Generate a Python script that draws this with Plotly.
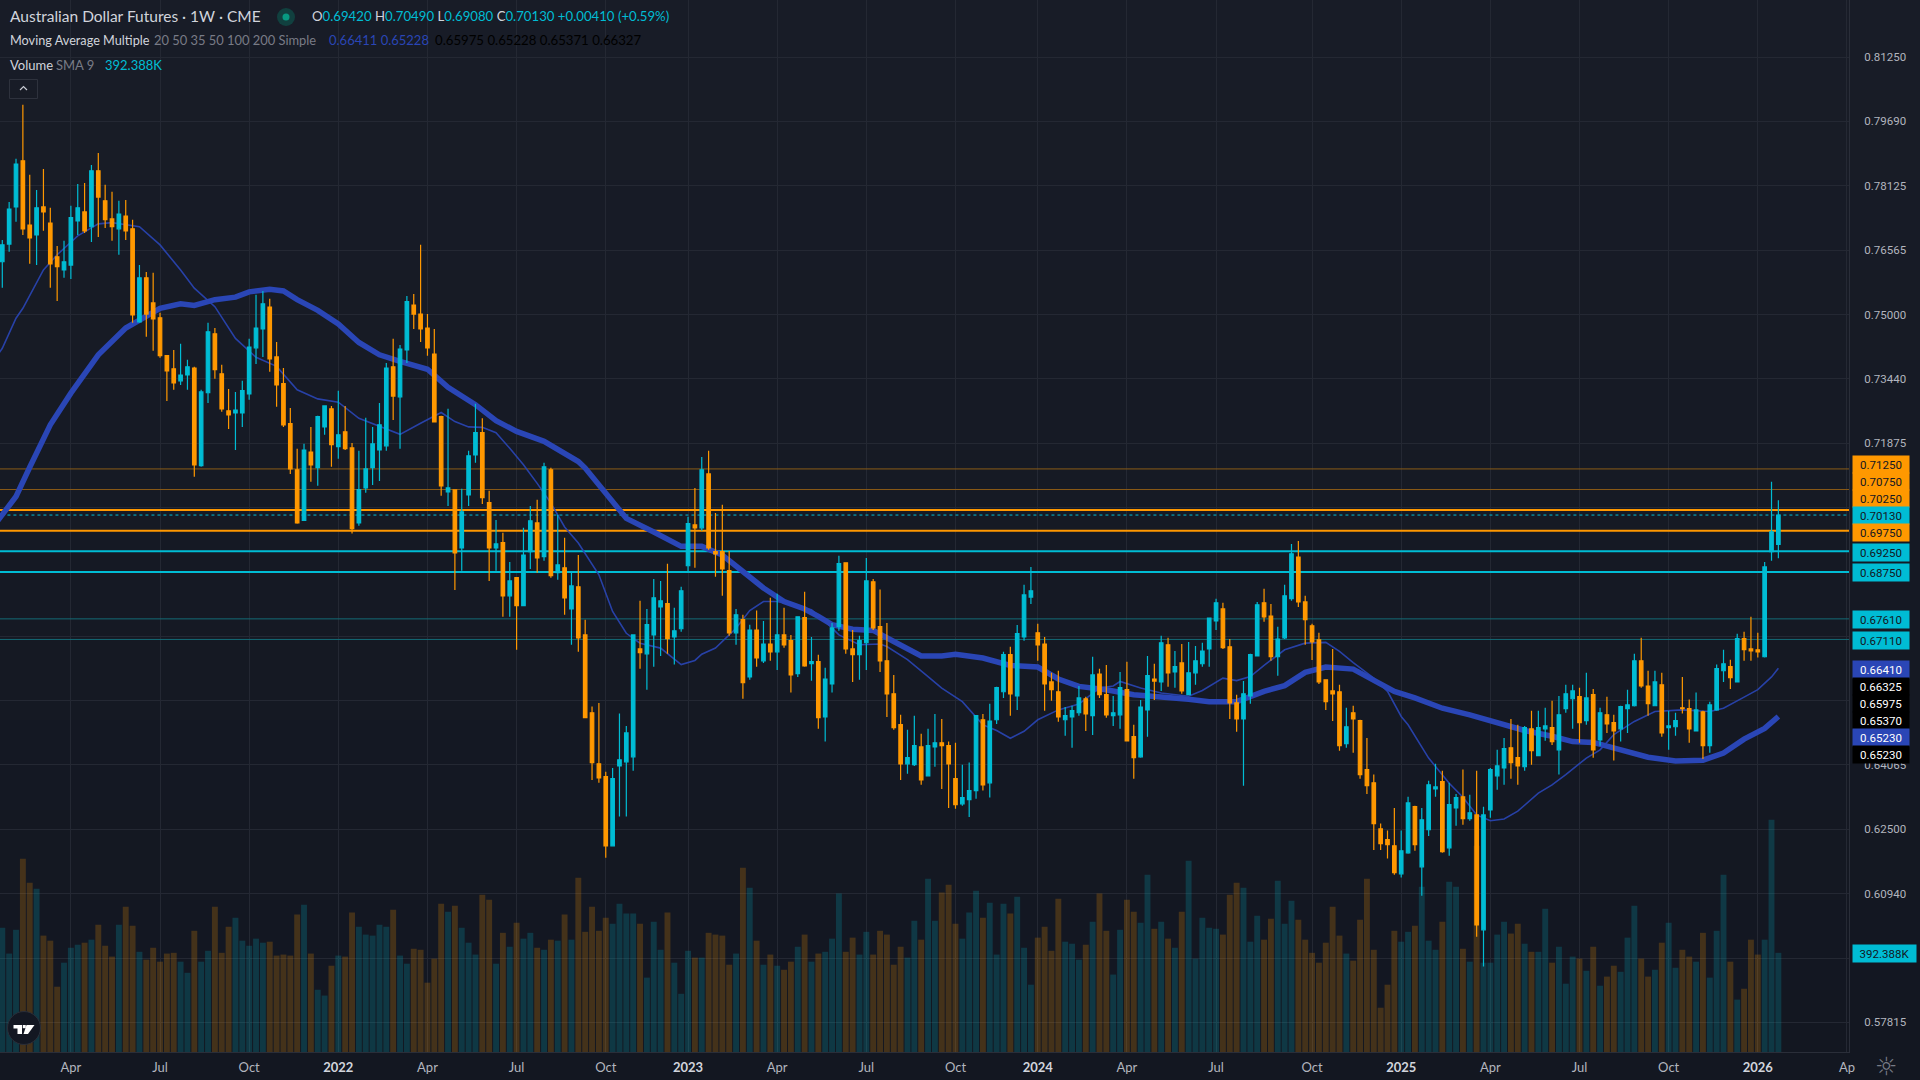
import plotly.graph_objects as go

# Weekly AUD futures, oldest bar first
opens = [
 .7628,.7671,.7761,.7873,.7717,.7693,.7761,.7722,.7640,.7608,
 .7620,.7727,.7749,.7713,.7849,.7776,.7732,.7708,.7739,.7708,
 .7482,.7589,.7528,.7492,.7400,.7368,.7339,.7353,.7370,.7133,
 .7310,.7453,.7356,.7266,.7261,.7261,.7307,.7419,.7465,.7518,
 .7397,.7332,.7235,.7123,.7000,.7166,.7128,.7227,.7271,.7179,
 .7215,.7176,.6994,.7079,.7128,.7171,.7181,.7373,.7300,.7414,
 .7523,.7501,.7467,.7404,.7252,.7069,.7074,.6933,.7062,.7159,
 .7213,.7043,.6933,.6946,.6817,.6861,.6793,.6924,.6994,.6912,
 .7123,.6873,.6885,.6785,.6839,.6722,.6533,.6409,.6378,.6210,
 .6404,.6414,.6426,.6688,.6676,.6722,.6790,.6798,.6717,.6737,
 .6890,.6989,.6982,.7113,.6924,.6924,.6878,.6727,.6759,.6620,
 .6734,.6659,.6700,.6681,.6722,.6708,.6628,.6764,.6652,.6657,
 .6523,.6603,.6742,.6897,.6688,.6674,.6703,.6851,.6742,.6659,
 .6579,.6504,.6409,.6407,.6450,.6380,.6450,.6460,.6453,.6373,
 .6312,.6322,.6344,.6516,.6363,.6516,.6584,.6674,.6574,.6717,
 .6814,.6727,.6700,.6608,.6584,.6516,.6523,.6533,.6567,.6526,
 .6627,.6577,.6526,.6528,.6589,.6475,.6426,.6540,.6615,.6608,
 .6698,.6632,.6654,.6577,.6630,.6652,.6688,.6756,.6785,.6693,
 .6557,.6518,.6574,.6671,.6800,.6768,.6669,.6715,.6810,.6911,
 .6802,.6744,.6710,.6613,.6586,.6584,.6458,.6533,.6514,.6395,
 .6363,.6251,.6225,.6210,.6142,.6193,.6305,.6159,.6249,.6348,
 .6366,.6205,.6302,.6329,.6276,.6285,.6006,.6297,.6380,.6399,
 .6448,.6424,.6402,.6494,.6429,.6494,.6497,.6443,.6543,.6567,
 .6572,.6514,.6577,.6467,.6528,.6509,.6494,.6543,.6550,.6659,
 .6598,.6550,.6601,.6497,.6499,.6545,.6543,.6489,.6535,.6453,
 .6540,.6635,.6645,.6608,.6713,.6688,.6686,.6669,.6924,.6942,
]
highs = [
 .7681,.7773,.7878,.8009,.7839,.7802,.7853,.7759,.7666,.7679,
 .7764,.7817,.7819,.7863,.7892,.7815,.7798,.7776,.7778,.7730,
 .7620,.7603,.7601,.7504,.7400,.7414,.7429,.7390,.7373,.7317,
 .7480,.7467,.7378,.7319,.7312,.7339,.7441,.7548,.7557,.7538,
 .7433,.7370,.7273,.7174,.7186,.7227,.7254,.7278,.7278,.7315,
 .7278,.7188,.7169,.7249,.7227,.7285,.7382,.7441,.7426,.7545,
 .7550,.7669,.7501,.7465,.7254,.7271,.7075,.7077,.7169,.7283,
 .7248,.7072,.7001,.6970,.6899,.6861,.6982,.7035,.7050,.7140,
 .7128,.7014,.6958,.6873,.6916,.6759,.6548,.6557,.6390,.6399,
 .6531,.6501,.6722,.6805,.6785,.6858,.6853,.6895,.6788,.6839,
 .7009,.7079,.7154,.7169,.7018,.7038,.6926,.6785,.6771,.6747,
 .6781,.6756,.6812,.6822,.6788,.6722,.6766,.6827,.6717,.6674,
 .6642,.6751,.6914,.6897,.6734,.6720,.6909,.6858,.6832,.6751,
 .6625,.6528,.6492,.6526,.6482,.6494,.6530,.6518,.6463,.6460,
 .6407,.6412,.6526,.6530,.6555,.6596,.6681,.6693,.6746,.6844,
 .6887,.6749,.6717,.6630,.6635,.6547,.6550,.6598,.6572,.6669,
 .6640,.6649,.6574,.6632,.6657,.6504,.6564,.6671,.6652,.6720,
 .6715,.6683,.6700,.6705,.6695,.6703,.6763,.6810,.6800,.6712,
 .6577,.6610,.6676,.6802,.6834,.6797,.6742,.6844,.6943,.6950,
 .6817,.6749,.6727,.6613,.6688,.6601,.6545,.6550,.6516,.6472,
 .6383,.6264,.6247,.6302,.6247,.6329,.6307,.6302,.6368,.6409,
 .6392,.6363,.6336,.6395,.6334,.6392,.6305,.6399,.6443,.6472,
 .6518,.6504,.6501,.6538,.6538,.6545,.6562,.6574,.6601,.6601,
 .6594,.6630,.6591,.6545,.6572,.6528,.6550,.6589,.6676,.6715,
 .6635,.6635,.6630,.6538,.6533,.6620,.6565,.6582,.6538,.6560,
 .6650,.6686,.6662,.6725,.6730,.6766,.6727,.6899,.7094,.7049,
]
lows = [
 .7565,.7652,.7725,.7693,.7623,.7620,.7703,.7565,.7533,.7589,
 .7586,.7693,.7698,.7676,.7688,.7710,.7679,.7645,.7681,.7480,
 .7480,.7446,.7412,.7395,.7290,.7317,.7329,.7317,.7106,.7130,
 .7285,.7344,.7264,.7222,.7171,.7227,.7293,.7380,.7397,.7361,
 .7276,.7227,.7113,.6992,.7000,.7094,.7084,.7208,.7130,.7150,
 .7171,.6968,.6987,.7067,.7086,.7096,.7169,.7244,.7174,.7382,
 .7465,.7433,.7400,.7239,.7060,.7035,.6831,.6878,.7035,.7140,
 .7040,.6853,.6878,.6766,.6766,.6686,.6793,.6882,.6873,.6902,
 .6861,.6856,.6771,.6698,.6681,.6521,.6370,.6363,.6181,.6210,
 .6281,.6281,.6392,.6640,.6589,.6645,.6671,.6676,.6650,.6730,
 .6875,.6885,.6975,.6929,.6863,.6817,.6720,.6698,.6567,.6613,
 .6645,.6654,.6659,.6637,.6691,.6582,.6620,.6645,.6611,.6494,
 .6463,.6582,.6732,.6676,.6608,.6613,.6637,.6734,.6632,.6523,
 .6492,.6370,.6385,.6404,.6358,.6380,.6402,.6348,.6302,.6300,
 .6307,.6280,.6324,.6344,.6327,.6506,.6569,.6526,.6540,.6708,
 .6797,.6659,.6538,.6562,.6511,.6477,.6448,.6526,.6489,.6479,
 .6569,.6521,.6501,.6494,.6465,.6373,.6424,.6475,.6564,.6586,
 .6596,.6594,.6579,.6577,.6601,.6645,.6645,.6734,.6688,.6518,
 .6487,.6356,.6555,.6671,.6754,.6659,.6623,.6712,.6805,.6790,
 .6698,.6661,.6603,.6540,.6513,.6441,.6448,.6436,.6373,.6336,
 .6200,.6200,.6179,.6140,.6133,.6191,.6198,.6089,.6234,.6329,
 .6193,.6186,.6259,.6261,.6271,.5989,.5917,.6278,.6346,.6358,
 .6373,.6358,.6392,.6407,.6429,.6465,.6455,.6383,.6533,.6494,
 .6460,.6504,.6424,.6453,.6484,.6417,.6463,.6484,.6548,.6594,
 .6526,.6550,.6475,.6443,.6477,.6531,.6460,.6489,.6421,.6436,
 .6538,.6608,.6591,.6608,.6659,.6659,.6667,.6667,.6902,.6908,
]
closes = [
 .7669,.7756,.7865,.7708,.7686,.7759,.7749,.7623,.7616,.7628,
 .7735,.7759,.7703,.7849,.7785,.7730,.7713,.7744,.7703,.7499,
 .7589,.7501,.7489,.7400,.7363,.7334,.7353,.7373,.7135,.7312,
 .7458,.7366,.7271,.7256,.7268,.7315,.7421,.7467,.7526,.7392,
 .7329,.7232,.7125,.6994,.7171,.7135,.7252,.7278,.7184,.7208,
 .7174,.6980,.7075,.7125,.7186,.7232,.7370,.7302,.7416,.7531,
 .7501,.7465,.7419,.7239,.7084,.7079,.6921,.7021,.7157,.7213,
 .7055,.6933,.6943,.6817,.6853,.6793,.6916,.6999,.6909,.7130,
 .6866,.6892,.6812,.6841,.6715,.6521,.6412,.6375,.6210,.6373,
 .6419,.6484,.6722,.6679,.6747,.6812,.6805,.6713,.6732,.6829,
 .6992,.6982,.7123,.6933,.6919,.6882,.6727,.6771,.6606,.6734,
 .6666,.6700,.6681,.6722,.6698,.6625,.6766,.6647,.6657,.6521,
 .6615,.6739,.6895,.6688,.6674,.6708,.6853,.6739,.6659,.6579,
 .6497,.6409,.6424,.6453,.6370,.6453,.6460,.6453,.6409,.6310,
 .6327,.6344,.6526,.6358,.6513,.6594,.6674,.6579,.6725,.6819,
 .6829,.6698,.6603,.6589,.6523,.6526,.6538,.6569,.6530,.6625,
 .6577,.6528,.6533,.6594,.6465,.6424,.6547,.6623,.6610,.6703,
 .6630,.6645,.6586,.6630,.6659,.6683,.6763,.6800,.6691,.6557,
 .6518,.6579,.6674,.6795,.6766,.6669,.6712,.6817,.6919,.6802,
 .6759,.6705,.6608,.6560,.6579,.6453,.6499,.6518,.6383,.6356,
 .6264,.6215,.6213,.6145,.6198,.6314,.6213,.6273,.6358,.6353,
 .6196,.6310,.6327,.6276,.6290,.6018,.6285,.6395,.6404,.6446,
 .6412,.6404,.6497,.6441,.6497,.6501,.6463,.6528,.6579,.6586,
 .6509,.6569,.6443,.6533,.6506,.6489,.6548,.6552,.6659,.6598,
 .6555,.6608,.6484,.6501,.6514,.6543,.6494,.6540,.6453,.6552,
 .6640,.6652,.6618,.6713,.6686,.6683,.6681,.6887,.6972,.7013,
]
# Contracts per week, thousands
volumes_k = [
 491,389,483,764,669,645,460,440,258,353,
 412,424,432,444,503,420,377,503,574,499,
 396,365,412,357,389,392,357,313,479,357,
 400,574,392,495,531,440,420,448,432,436,
 381,385,381,543,582,389,246,223,341,381,
 377,551,495,464,460,503,495,562,381,349,
 408,404,274,369,586,554,578,491,432,385,
 622,602,349,471,416,511,448,471,412,404,
 444,440,543,444,689,475,574,479,531,507,
 586,547,547,507,294,515,404,551,353,230,
 400,373,373,471,464,460,345,389,728,649,
 440,345,385,341,325,357,416,464,357,389,
 396,448,626,396,452,385,475,385,479,464,
 345,416,373,519,444,685,519,630,661,507,
 448,551,637,531,590,385,586,547,614,412,
 266,452,495,400,606,436,428,365,424,515,
 626,479,306,483,602,554,511,701,487,515,
 448,412,554,756,369,531,491,487,464,622,
 669,649,436,539,444,527,677,507,598,523,
 444,392,353,432,574,460,389,361,523,685,
 404,175,266,479,436,475,499,653,440,404,
 515,673,653,408,357,815,353,353,464,515,
 468,507,428,396,396,566,353,416,270,377,
 369,321,416,262,298,341,317,452,578,369,
 298,325,432,511,333,404,377,357,471,294,
 479,701,357,207,250,444,385,444,918,392,
]

# Simple moving averages, sampled along the curve by bar number
sma_fast_bar = [-1,0,2,3,6,8,11,14,16,20,23,26,28,31,34,37,40,43,46,49,52,55,58,61,64,66,68,70,72,74,76,78,80,82,84,87,89,91,93,96,99,101,102,104,107,109,111,113,118,120,122,125,128,129,132,135,137,140,143,145,147,149,151,154,157,160,162,163,166,169,173,175,178,180,182,184,187,190,193,195,197,200,202,204,205,208,211,213,215,217,219,221,224,226,228,231,233,235,238,241,245,249,251,254,256,258,259]
sma_fast = [.7394,.7418,.7491,.7515,.7608,.7645,.7691,.7720,.7723,.7713,.7669,.7608,.7564,.7519,.7442,.7396,.7374,.7317,.7295,.7287,.7248,.7228,.7209,.7236,.7262,.7240,.7227,.7226,.7213,.7175,.7135,.7090,.7042,.6984,.6945,.6868,.6779,.6726,.6702,.6690,.6650,.6660,.6675,.6690,.6738,.6781,.6803,.6803,.6783,.6755,.6722,.6698,.6700,.6694,.6662,.6621,.6593,.6560,.6504,.6490,.6471,.6488,.6516,.6540,.6554,.6593,.6598,.6609,.6593,.6581,.6573,.6587,.6617,.6611,.6621,.6648,.6686,.6702,.6704,.6682,.6655,.6617,.6585,.6524,.6504,.6423,.6362,.6328,.6285,.6271,.6275,.6294,.6338,.6358,.6383,.6423,.6443,.6480,.6512,.6536,.6540,.6536,.6544,.6571,.6589,.6620,.6641]
sma_slow_bar = [-1,2,4,7,10,14,18,21,23,26,28,31,34,36,39,41,43,46,49,52,55,58,62,65,68,69,72,75,79,84,85,88,91,95,99,102,105,108,111,114,117,119,121,124,127,130,133,134,137,139,143,147,151,154,157,161,165,169,173,176,180,184,187,190,193,197,200,203,206,210,214,218,222,226,229,232,236,240,244,248,251,254,257,259]
sma_slow = [.6992,.7058,.7129,.7232,.7309,.7402,.7467,.7495,.7515,.7526,.7522,.7536,.7542,.7555,.7561,.7557,.7536,.7510,.7477,.7432,.7402,.7386,.7367,.7323,.7289,.7281,.7242,.7216,.7192,.7143,.7127,.7066,.7005,.6972,.6937,.6937,.6916,.6876,.6836,.6803,.6785,.6767,.6747,.6736,.6733,.6706,.6680,.6671,.6671,.6675,.6666,.6648,.6644,.6615,.6597,.6589,.6577,.6573,.6566,.6560,.6560,.6585,.6599,.6631,.6644,.6639,.6613,.6585,.6569,.6544,.6528,.6508,.6490,.6476,.6463,.6461,.6443,.6425,.6416,.6418,.6435,.6469,.6495,.6524]

# Marked price levels
orange_levels = [0.7025, 0.6975]
orange_faint_levels = [0.7125, 0.7075]
cyan_levels = [0.6925, 0.6875]
cyan_faint_levels = [0.6761, 0.6711]
last_close = 0.7013

# Axis labels; rows sitting under a badge keep their grid line but carry no text
price_ticks = [0.8125,0.7969,0.78125,0.76565,0.75,0.7344,0.71875,0.7031,0.6875,0.67185,0.65625,0.64065,0.625,0.6094,0.59375,0.57815]
price_tick_labels = ["0.81250","0.79690","0.78125","0.76565","0.75000","0.73440","0.71875","","","","","0.64065","0.62500","0.60940","","0.57815"]
time_tick_bars = [10,23,36,49,62,75,88,100,113,126,139,151,164,177,191,204,217,230,243,256,269]
time_tick_labels = ["Apr","Jul","Oct","2022","Apr","Jul","Oct","2023","Apr","Jul","Oct","2024","Apr","Jul","Oct","2025","Apr","Jul","Oct","2026","Ap"]

# Axis-side badges: text, fill, text colour, centre row on the page
badges = [
 ("0.71250","#FF9800","#131722",464.5),("0.70750","#FF9800","#131722",481.5),
 ("0.70250","#FF9800","#131722",498.5),("0.70130","#00BCD4","#131722",515.5),
 ("0.69750","#FF9800","#131722",532.5),("0.69250","#00BCD4","#131722",552.5),
 ("0.68750","#00BCD4","#131722",572.5),("0.67610","#00BCD4","#131722",619.5),
 ("0.67110","#00BCD4","#131722",640.5),("0.66410","#2A46B6","#FFFFFF",669.5),
 ("0.66325","#000000","#FFFFFF",686.5),("0.65975","#000000","#FFFFFF",703.5),
 ("0.65370","#000000","#FFFFFF",720.5),("0.65230","#2A46B6","#FFFFFF",737.5),
 ("0.65230","#000000","#FFFFFF",754.5),
]

CYAN, ORANGE, BLUE = "#00BCD4", "#FF9800", "#2A46B6"
GRID = "#242833"
FONT = "Lato"
AXIS_FONT = "Roboto"
PLOT_W, PLOT_H = 1849, 1052

def px(x):
    return x / PLOT_W

def py(y):
    return 1 - y / PLOT_H

fig = go.Figure()

def level(value, color, width, dash="solid"):
    fig.add_trace(go.Scatter(
        x=[-1, 270], y=[value, value], mode="lines", yaxis="y", xaxis="x",
        line=dict(color=color, width=width, dash=dash), hoverinfo="skip", showlegend=False))

for v in orange_faint_levels:
    level(v, "#8a5a17", 1)
for v in cyan_faint_levels:
    level(v, "#146a74", 1)
for v in orange_levels:
    level(v, ORANGE, 2)
for v in cyan_levels:
    level(v, CYAN, 2)
level(last_close, CYAN, 1, "dot")

bars = list(range(len(closes)))
fig.add_trace(go.Bar(
    x=bars, y=[v * 1000 for v in volumes_k], yaxis="y2", xaxis="x",
    marker=dict(color=["rgba(0,188,212,0.2)" if c >= o else "rgba(255,152,0,0.21)" for o, c in zip(opens, closes)], line_width=0),
    hoverinfo="skip", showlegend=False))

fig.add_trace(go.Scatter(x=sma_slow_bar, y=sma_slow, mode="lines", yaxis="y3", xaxis="x",
                         line=dict(color=BLUE, width=5.5), hoverinfo="skip", showlegend=False))
fig.add_trace(go.Scatter(x=sma_fast_bar, y=sma_fast, mode="lines", yaxis="y3", xaxis="x",
                         line=dict(color=BLUE, width=1.6), opacity=0.9, hoverinfo="skip", showlegend=False))

fig.add_trace(go.Candlestick(
    x=bars, open=opens, high=highs, low=lows, close=closes, yaxis="y4", xaxis="x",
    increasing=dict(line=dict(color=CYAN, width=1.2), fillcolor=CYAN),
    decreasing=dict(line=dict(color=ORANGE, width=1.2), fillcolor=ORANGE),
    whiskerwidth=0, hoverinfo="skip", showlegend=False))

PRICE_RANGE = [0.57094, 0.82635]
overlay = dict(overlaying="y", range=PRICE_RANGE, visible=False, fixedrange=True)

# Top-to-bottom wash behind everything
shapes = []
TOP, BOTTOM = (24, 28, 39), (19, 23, 33)
STEPS = 12
for s in range(STEPS):
    t = s / (STEPS - 1)
    col = "rgb(%d,%d,%d)" % tuple(round(a + (b - a) * t) for a, b in zip(TOP, BOTTOM))
    shapes.append(dict(type="rect", xref="paper", yref="paper", layer="below", line_width=0, fillcolor=col,
                       x0=px(0), x1=px(1920), y0=py(1080 * (s + 1) / STEPS), y1=py(1080 * s / STEPS)))

# Round badge in the lower-left corner with its mark
def path_from(points):
    return "M" + "L".join("%.5f,%.5f" % (px(x), py(y)) for x, y in points) + "Z"

shapes.append(dict(type="circle", xref="paper", yref="paper", fillcolor="#131722", line=dict(color="#2a2e39", width=1),
                   x0=px(7.5), x1=px(40.5), y0=py(1044.5), y1=py(1011.5)))
for poly in ([(13.5,1025),(22,1025),(22,1034),(17.5,1034),(17.5,1028.5),(13.5,1028.5)],
             [(26.5,1025),(34.5,1025),(28,1034),(23.5,1034)],
             [(22.8,1025),(25.8,1025),(25.8,1028.2),(22.8,1028.2)]):
    shapes.append(dict(type="path", xref="paper", yref="paper", path=path_from(poly), fillcolor="#FFFFFF", line_width=0))

# Collapse button under the legend
shapes.append(dict(type="rect", xref="paper", yref="paper", fillcolor="rgba(0,0,0,0)", line=dict(color="#2e323d", width=1),
                   x0=px(9.5), x1=px(37.5), y0=py(98.5), y1=py(79.5)))
shapes.append(dict(type="path", xref="paper", yref="paper", line=dict(color="#c8cbd3", width=1.2),
                   path="M%.5f,%.5fL%.5f,%.5fL%.5f,%.5f" % (px(20), py(90), px(23.5), py(86.5), px(27), py(90))))
# Live status dot
shapes.append(dict(type="circle", xref="paper", yref="paper", fillcolor="#11403f", line_width=0,
                   x0=px(277), x1=px(295), y0=py(26), y1=py(8)))
shapes.append(dict(type="circle", xref="paper", yref="paper", fillcolor="#089981", line_width=0,
                   x0=px(282.5), x1=px(289.5), y0=py(20.5), y1=py(13.5)))

LIGHT, DIM = "#d1d4dc", "#787b86"

def text(x, y, s, color=LIGHT, size=13):
    return dict(xref="paper", yref="paper", x=px(x), y=py(y), text=s, showarrow=False, xanchor="left", yanchor="middle",
                font=dict(family=FONT, size=size, color=color), align="left", borderpad=0)

def sp(s, color):
    return '<span style="color:%s">%s</span>' % (color, s)

annotations = [
    text(8.5, 16.5, "Australian Dollar Futures · 1W · CME", LIGHT, 15.5),
    text(311, 16.5, sp("O", LIGHT) + sp("0.69420", CYAN) + " " + sp("H", LIGHT) + sp("0.70490", CYAN) + " "
         + sp("L", LIGHT) + sp("0.69080", CYAN) + " " + sp("C", LIGHT) + sp("0.70130", CYAN) + " " + sp("+0.00410 (+0.59%)", CYAN), LIGHT, 13.2),
    text(8.5, 40.5, "Moving Average Multiple", LIGHT, 12.7),
    text(153, 40.5, "20 50 35 50 100 200 Simple", DIM, 12.9),
    text(328, 40.5, "0.66411 0.65228", BLUE, 13),
    text(434, 40.5, "0.65975 0.65228 0.65371 0.66327", "#000000", 13.2),
    text(8.5, 64.5, "Volume", LIGHT, 13),
    text(55, 64.5, "SMA 9", DIM, 13),
    text(103.5, 64.5, "392.388K", CYAN, 13),
    dict(xref="paper", yref="paper", x=px(1886), y=py(1066), text="☼", showarrow=False, xanchor="center", yanchor="middle",
         font=dict(family="DejaVu Sans", size=25, color="#787b86")),
]
for label, fill, ink, row in badges:
    annotations.append(dict(xref="paper", yref="paper", x=px(1852), y=py(row), text=label, showarrow=False,
                            xanchor="left", yanchor="middle", width=56, height=17, bgcolor=fill, borderpad=0,
                            font=dict(family=AXIS_FONT, size=11.5, color=ink)))
annotations.append(dict(xref="paper", yref="paper", x=px(1852), y=py(953.5), text="392.388K", showarrow=False,
                        xanchor="left", yanchor="middle", width=63, height=17, bgcolor=CYAN, borderpad=0,
                        font=dict(family=AXIS_FONT, size=11.5, color="#131722")))

time_text = ['<span style="color:#d1d4dc"><b>%s</b></span>' % t if t.isdigit() else t for t in time_tick_labels]

fig.update_layout(
    width=1920, height=1080, margin=dict(l=0, r=71, t=0, b=28, pad=0),
    paper_bgcolor="#131722", plot_bgcolor="rgba(0,0,0,0)",
    font=dict(family=FONT, size=13, color="#b2b5be"),
    showlegend=False, boxgap=0.27, bargap=0.14, dragmode=False,
    shapes=shapes, annotations=annotations,
    xaxis=dict(range=[-0.335, 269.3], tickmode="array", tickvals=time_tick_bars, ticktext=time_text, ticks="", ticklen=0,
               showgrid=True, gridcolor=GRID, gridwidth=1, zeroline=False, rangeslider=dict(visible=False),
               showline=True, linecolor="#2a2e39", linewidth=1, fixedrange=True,
               tickfont=dict(family=FONT, size=13, color="#b2b5be"), ticklabelstandoff=3),
    yaxis=dict(side="right", range=PRICE_RANGE, tickmode="array", tickvals=price_ticks,
               ticktext=price_tick_labels, ticks="", ticklen=0, showgrid=True, gridcolor=GRID, gridwidth=1,
               zeroline=False, showline=True, linecolor="#2a2e39", linewidth=1, fixedrange=True,
               tickfont=dict(family=AXIS_FONT, size=11.5, color="#b2b5be"), ticklabelstandoff=12),
    yaxis2=dict(overlaying="y", range=[0, 4158000], visible=False, fixedrange=True),
    yaxis3=overlay,
    yaxis4=overlay,
)

fig.write_html("out.html", config=dict(displayModeBar=False))
